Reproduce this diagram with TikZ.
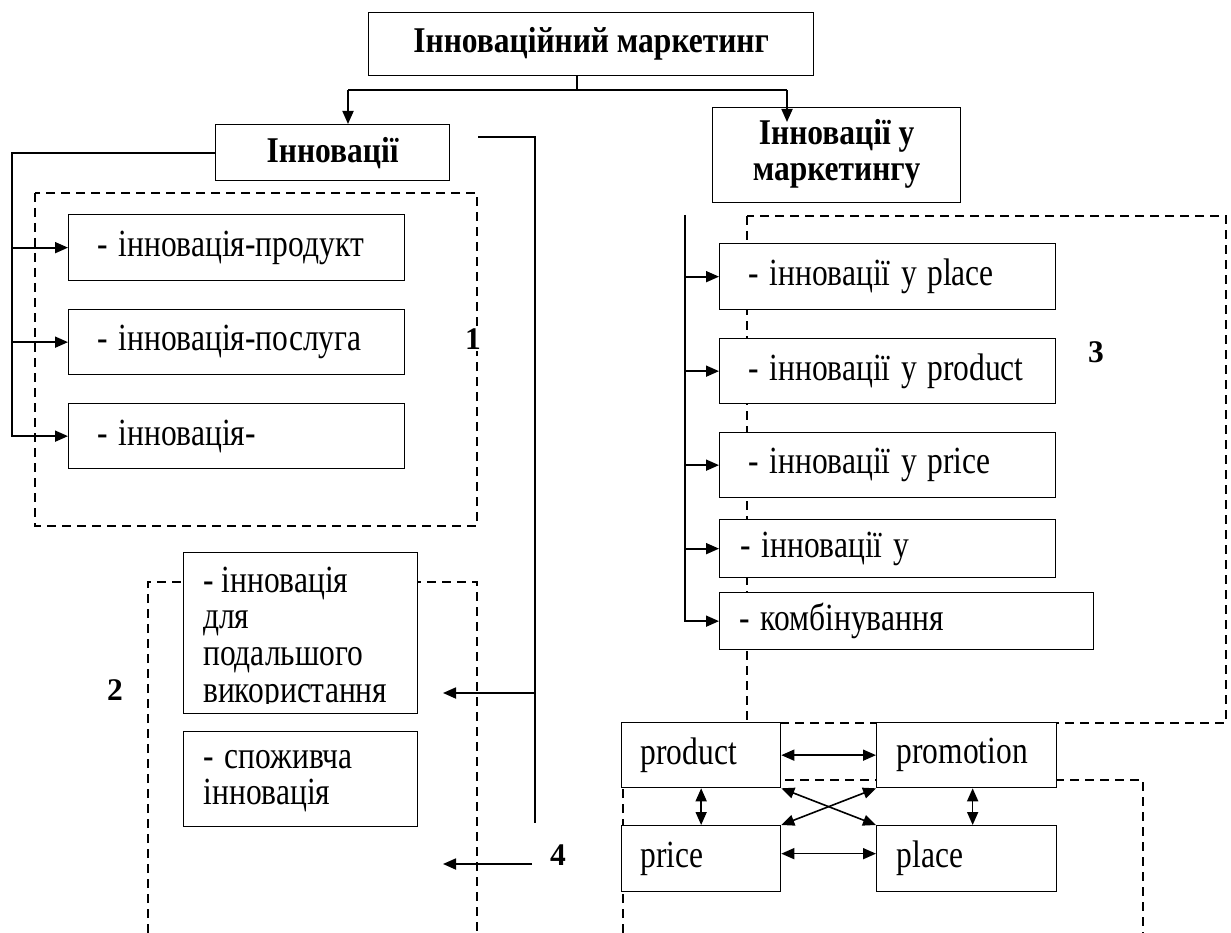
\documentclass[tikz,border=0pt]{standalone}
\usepackage{fontspec}
\usepackage{graphicx}
\setmainfont{Liberation Serif}
\usetikzlibrary{arrows.meta,calc}
\newcommand\fsz{\fontsize{31.5}{30}\selectfont}
\newcommand\vs[1]{\scalebox{1}[1.22]{#1}}
\newcommand\vb[1]{\scalebox{1}[1.15]{#1}}
\begin{document}
\begin{tikzpicture}[x=1pt,y=-1pt,
  frame/.style={draw, line width=1.3pt, fill=white, inner sep=0pt, anchor=north west, font=\fsz},
  conn/.style={line width=1.8pt},
  arr/.style={conn, -{Triangle[length=13pt,width=11pt]}},
  darr/.style={line width=1.6pt, {Triangle[length=13pt,width=11pt]}-{Triangle[length=13pt,width=11pt]}},
  dsh/.style={line width=1.3pt, dash pattern=on 9pt off 6pt},
  lbl/.style={font=\fsz\bfseries, inner sep=2pt, fill=white}
]
\useasboundingbox (0,0) rectangle (1231,933);
\fill[white] (0,0) rectangle (1231,933);

% dashed groups
\draw[dsh] (35,193) rectangle (477,526);
\draw[dsh] (148,933) -- (148,582) -- (477,582) -- (477,933);
\draw[dsh] (747,216) rectangle (1226,723);
\draw[dsh] (623,933) -- (623,780) -- (1143,780) -- (1143,933);

% titles
\node[frame, font=\fsz\bfseries, minimum width=445pt, minimum height=63pt] (t) at (368,12) {\vb{Інноваційний маркетинг}};
\node[frame, font=\fsz\bfseries, minimum width=234pt, minimum height=56pt] (l) at (215,124) {\vb{Інновації}};
\node[frame, font=\fsz\bfseries, minimum width=248pt, minimum height=95pt] (r) at (712,107)
  {\vb{\fontsize{31.5}{31.3}\selectfont\begin{tabular}{@{}c@{}}Інновації у\\маркетингу\end{tabular}}};

% left list
\node[frame, minimum width=336pt, minimum height=66pt, text width=278pt, align=left] (p1) at (68,214) {\vs{- інновація-продукт}};
\node[frame, minimum width=336pt, minimum height=65pt, text width=278pt, align=left] (p2) at (68,309) {\vs{- інновація-послуга}};
\node[frame, minimum width=336pt, minimum height=65pt, text width=278pt, align=left] (p3) at (68,403) {\vs{- інновація-}};

% box A (clipped text) and box B
\node[frame, minimum width=234pt, minimum height=161pt] (a) at (183,552) {};
\begin{scope}
\clip (183,552) rectangle (417,703);
\node[anchor=base west, inner sep=0pt, font=\fsz] (atxt) at (203,592)
  {\vs{\fontsize{31.5}{30.1}\selectfont\begin{tabular}[t]{@{}l@{}}- інновація\\для\\подальшого\\використання\end{tabular}}};
\end{scope}
\node[frame, minimum width=234pt, minimum height=95pt, text width=194pt, align=left] (b) at (183,731)
  {\vs{\fontsize{31.5}{29.5}\selectfont\begin{tabular}{@{}l@{}}- споживча\\інновація\end{tabular}}};

% right list
\node[frame, minimum width=336pt, minimum height=66pt, text width=278pt, align=left] (rp) at (719,243) {\vs{- інновації у place}};
\node[frame, minimum width=336pt, minimum height=65pt, text width=278pt, align=left] (rd) at (719,338) {\vs{- інновації у product}};
\node[frame, minimum width=336pt, minimum height=65pt, text width=278pt, align=left] (rc) at (719,432) {\vs{- інновації у price}};
\node[frame, minimum width=336pt, minimum height=58pt, text width=294pt, align=left] (ru) at (719,519) {\vs{- інновації у}};
\node[frame, minimum width=374pt, minimum height=57pt, text width=334pt, align=left] (k) at (719,592) {\vs{- комбінування}};

% 4P
\node[frame, minimum width=159pt, minimum height=65pt, text width=121pt, align=left] (pp) at (621,722) {\vs{product}};
\node[frame, minimum width=180pt, minimum height=65pt, text width=140pt, align=left] (pm) at (876,722) {\vs{promotion}};
\node[frame, minimum width=159pt, minimum height=66pt, text width=121pt, align=left] (pc) at (621,825) {\vs{price}};
\node[frame, minimum width=180pt, minimum height=66pt, text width=140pt, align=left] (pl) at (876,825) {\vs{place}};

% labels
\node[lbl] (n1) at (473,339) {1};
\node[lbl] (n2) at (115,690) {2};
\node[lbl] (n3) at (1096,352) {3};
\node[lbl] (n4) at (558,855) {4};

% top connectors
\coordinate (s0) at (577,90);
\coordinate (hl) at (348,90);
\coordinate (hr) at (787,90);
\draw[conn] (t.south -| s0) -- (s0);
\draw[conn] (hl) -- (hr);
\draw[arr] (hl) -- (hl |- l.north);
\draw[arr] (hr) -- ($(hr |- r.north)+(0,15)$);

% left branch
\coordinate (lx) at (12,0);
\draw[arr, line join=miter] (l.west) -- (l.west -| lx) -- (p3.west -| lx) -- (p3.west);
\draw[arr] (p1.west -| lx) -- (p1.west);
\draw[arr] (p2.west -| lx) -- (p2.west);

% right of Innovations
\coordinate (q0) at (478,137);
\coordinate (q1) at (535,137);
\coordinate (q2) at (535,823);
\coordinate (q3) at (535,693);
\coordinate (q4) at (443,693);
\coordinate (f0) at (532,864);
\coordinate (f1) at (443,864);
\draw[line width=2.4pt, line join=miter] (q0) -- (q1) -- (q2);
\draw[arr] (q3) -- (q4);
\draw[arr] (f0) -- (f1);

% right list branch
\coordinate (rx) at (685,215);
\draw[arr, line join=miter] (rx) -- (rx |- k.west) -- (k.west);
\draw[arr] (rx |- rp.west) -- (rp.west);
\draw[arr] (rx |- rd.west) -- (rd.west);
\draw[arr] (rx |- rc.west) -- (rc.west);
\draw[arr] (rx |- ru.west) -- (ru.west);

% 4P links
\draw[darr] (pp.east) -- (pm.west);
\draw[darr] ($(pc.east)+(0,-5)$) -- ($(pl.west)+(0,-5)$);
\draw[darr] (pp.south) -- (pc.north);
\draw[darr] ($(pm.south)+(6,0)$) -- ($(pl.north)+(6,0)$);
\draw[darr] (pp.south east) -- (pl.north west);
\draw[darr] (pm.south west) -- (pc.north east);
\end{tikzpicture}
\end{document}
